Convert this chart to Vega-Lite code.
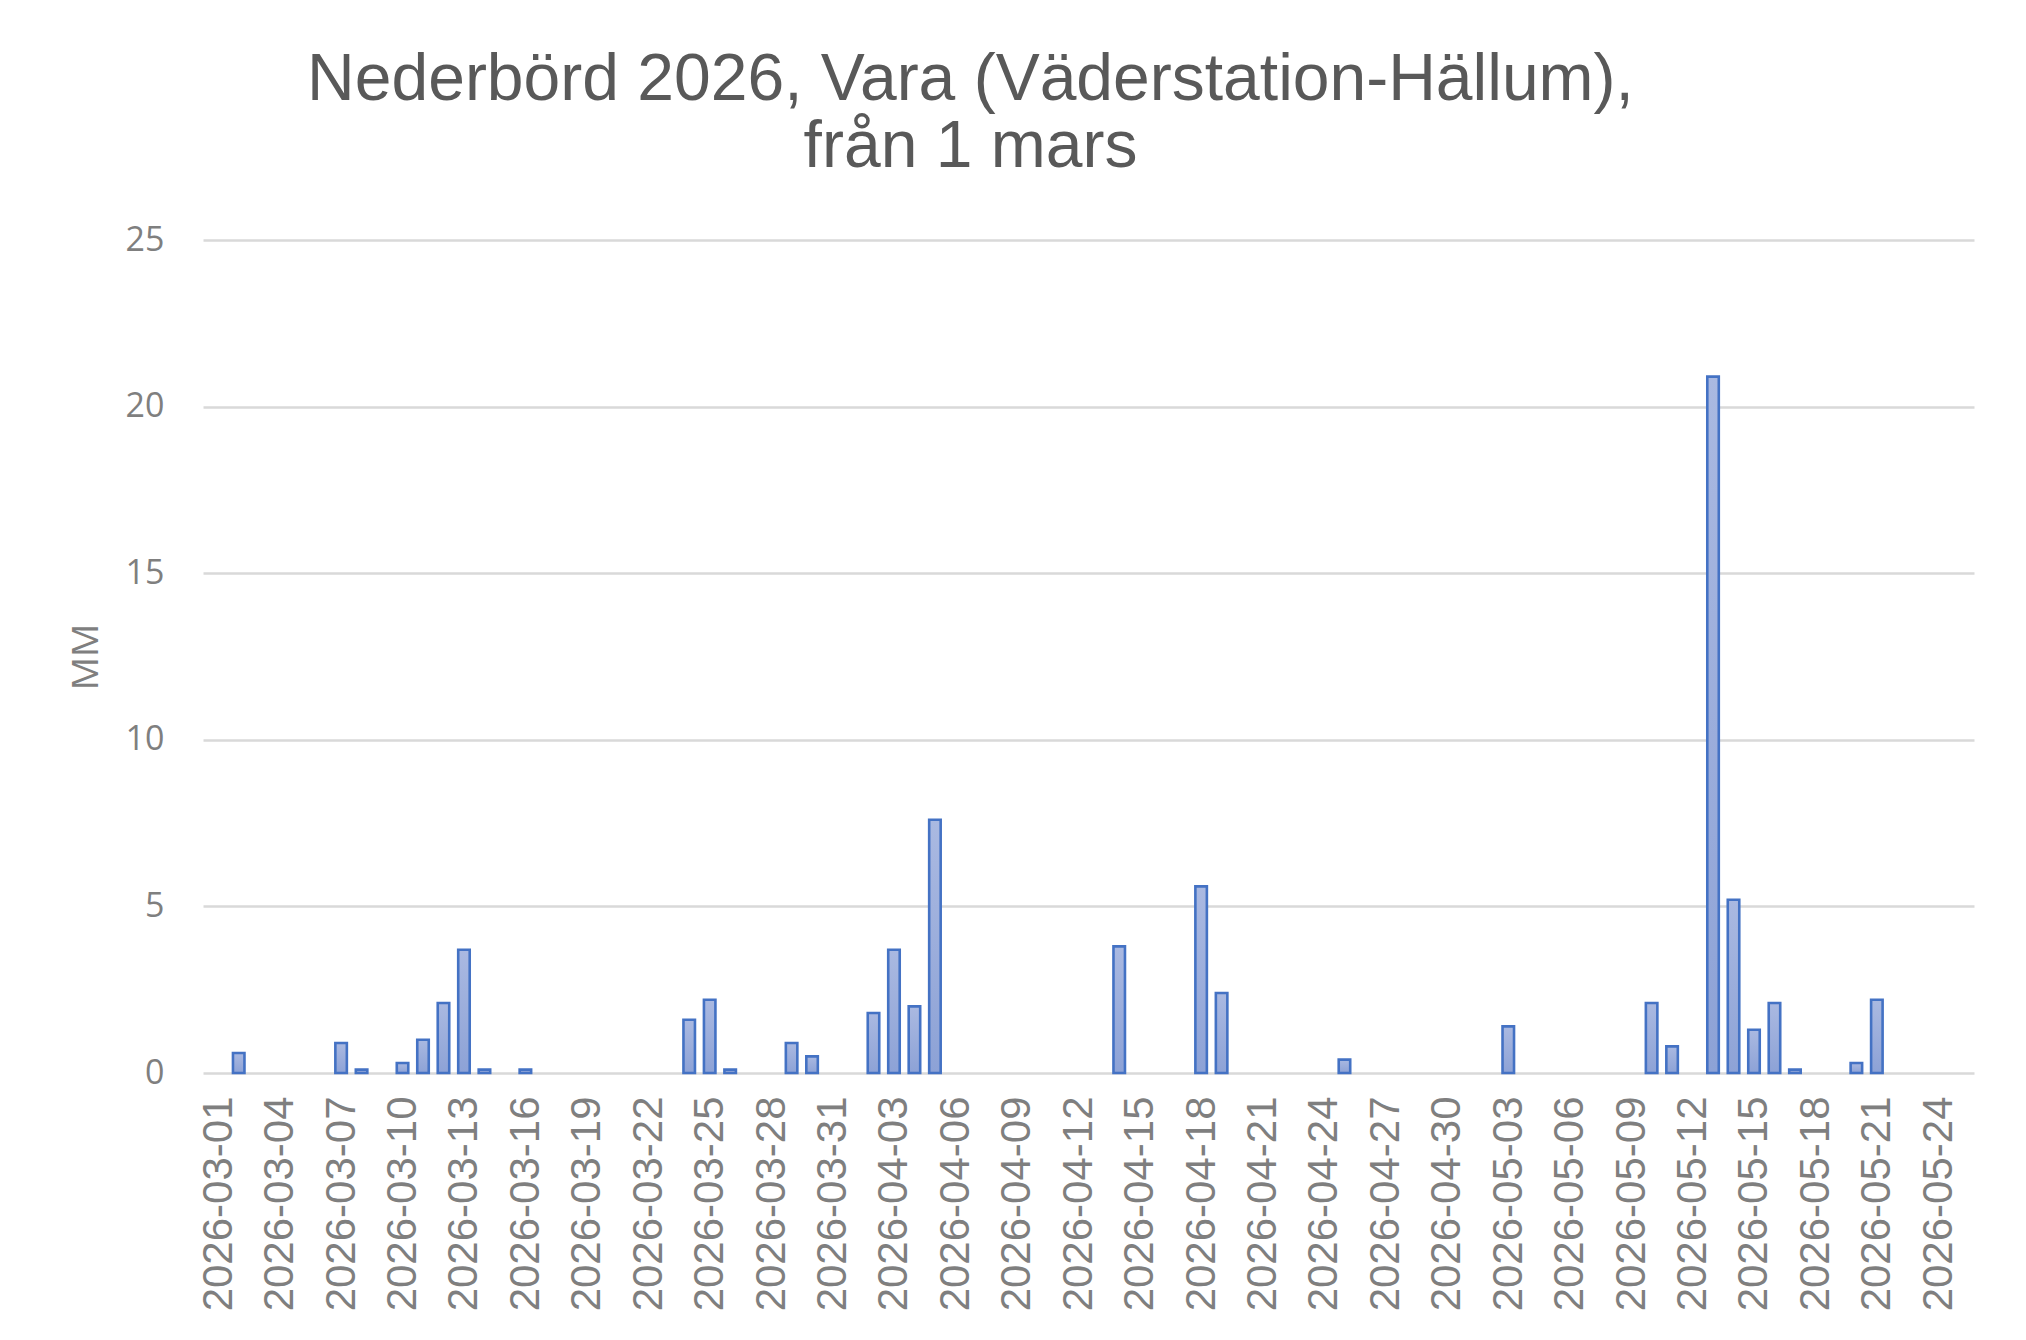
{
  "$schema": "https://vega.github.io/schema/vega-lite/v6.json",
  "description": "Nederbörd per dag, Vara (Väderstation-Hällum), mars-maj 2026",
  "width": 1771,
  "height": 833,
  "autosize": {"type": "none"},
  "padding": {"left": 203, "top": 240, "right": 52, "bottom": 267},
  "background": "white",
  "title": {
    "text": ["Nederbörd 2026, Vara (Väderstation-Hällum),", "från 1 mars"],
    "anchor": "middle",
    "frame": "group",
    "dx": -118,
    "offset": 42,
    "font": "Liberation Sans",
    "fontSize": 66,
    "fontWeight": "normal",
    "color": "#595959",
    "lineHeight": 67
  },
  "data": {
    "values": [
      {"datum": "2026-03-02", "mm": 0.6},
      {"datum": "2026-03-07", "mm": 0.9},
      {"datum": "2026-03-08", "mm": 0.1},
      {"datum": "2026-03-10", "mm": 0.3},
      {"datum": "2026-03-11", "mm": 1.0},
      {"datum": "2026-03-12", "mm": 2.1},
      {"datum": "2026-03-13", "mm": 3.7},
      {"datum": "2026-03-14", "mm": 0.1},
      {"datum": "2026-03-16", "mm": 0.1},
      {"datum": "2026-03-24", "mm": 1.6},
      {"datum": "2026-03-25", "mm": 2.2},
      {"datum": "2026-03-26", "mm": 0.1},
      {"datum": "2026-03-29", "mm": 0.9},
      {"datum": "2026-03-30", "mm": 0.5},
      {"datum": "2026-04-02", "mm": 1.8},
      {"datum": "2026-04-03", "mm": 3.7},
      {"datum": "2026-04-04", "mm": 2.0},
      {"datum": "2026-04-05", "mm": 7.6},
      {"datum": "2026-04-14", "mm": 3.8},
      {"datum": "2026-04-18", "mm": 5.6},
      {"datum": "2026-04-19", "mm": 2.4},
      {"datum": "2026-04-25", "mm": 0.4},
      {"datum": "2026-05-03", "mm": 1.4},
      {"datum": "2026-05-10", "mm": 2.1},
      {"datum": "2026-05-11", "mm": 0.8},
      {"datum": "2026-05-13", "mm": 20.9},
      {"datum": "2026-05-14", "mm": 5.2},
      {"datum": "2026-05-15", "mm": 1.3},
      {"datum": "2026-05-16", "mm": 2.1},
      {"datum": "2026-05-17", "mm": 0.1},
      {"datum": "2026-05-20", "mm": 0.3},
      {"datum": "2026-05-21", "mm": 2.2}
    ],
    "format": {"parse": {"datum": "utc:'%Y-%m-%d'"}}
  },
  "mark": {
    "type": "bar",
    "width": 11.5,
    "stroke": "#4472C4",
    "strokeWidth": 2.6,
    "fill": {
      "gradient": "linear",
      "x1": 0, "y1": 0, "x2": 0, "y2": 1,
      "stops": [
        {"offset": 0, "color": "#AAB9E1"},
        {"offset": 1, "color": "#8DA2D6"}
      ]
    }
  },
  "encoding": {
    "x": {
      "field": "datum",
      "type": "temporal",
      "scale": {
        "type": "utc",
        "domain": [
          {"year": 2026, "month": 2, "date": 28, "hours": 12, "utc": true},
          {"year": 2026, "month": 5, "date": 25, "hours": 12, "utc": true}
        ]
      },
      "axis": {
        "title": null,
        "labelExpr": "utcFormat(datum.value, '%Y-%m-%d')",
        "values": [
          {"year": 2026, "month": 3, "date": 1, "utc": true},
          {"year": 2026, "month": 3, "date": 4, "utc": true},
          {"year": 2026, "month": 3, "date": 7, "utc": true},
          {"year": 2026, "month": 3, "date": 10, "utc": true},
          {"year": 2026, "month": 3, "date": 13, "utc": true},
          {"year": 2026, "month": 3, "date": 16, "utc": true},
          {"year": 2026, "month": 3, "date": 19, "utc": true},
          {"year": 2026, "month": 3, "date": 22, "utc": true},
          {"year": 2026, "month": 3, "date": 25, "utc": true},
          {"year": 2026, "month": 3, "date": 28, "utc": true},
          {"year": 2026, "month": 3, "date": 31, "utc": true},
          {"year": 2026, "month": 4, "date": 3, "utc": true},
          {"year": 2026, "month": 4, "date": 6, "utc": true},
          {"year": 2026, "month": 4, "date": 9, "utc": true},
          {"year": 2026, "month": 4, "date": 12, "utc": true},
          {"year": 2026, "month": 4, "date": 15, "utc": true},
          {"year": 2026, "month": 4, "date": 18, "utc": true},
          {"year": 2026, "month": 4, "date": 21, "utc": true},
          {"year": 2026, "month": 4, "date": 24, "utc": true},
          {"year": 2026, "month": 4, "date": 27, "utc": true},
          {"year": 2026, "month": 4, "date": 30, "utc": true},
          {"year": 2026, "month": 5, "date": 3, "utc": true},
          {"year": 2026, "month": 5, "date": 6, "utc": true},
          {"year": 2026, "month": 5, "date": 9, "utc": true},
          {"year": 2026, "month": 5, "date": 12, "utc": true},
          {"year": 2026, "month": 5, "date": 15, "utc": true},
          {"year": 2026, "month": 5, "date": 18, "utc": true},
          {"year": 2026, "month": 5, "date": 21, "utc": true},
          {"year": 2026, "month": 5, "date": 24, "utc": true}
        ],
        "labelAngle": 270,
        "labelAlign": "right",
        "labelBaseline": "middle",
        "labelPadding": 23,
        "labelLimit": 0,
        "labelOverlap": false,
        "labelFlush": false,
        "labelBound": false,
        "labelFont": "Liberation Sans",
        "labelFontSize": 42,
        "labelColor": "#7F7F7F",
        "ticks": false,
        "domain": false,
        "grid": false
      }
    },
    "y": {
      "field": "mm",
      "type": "quantitative",
      "scale": {"domain": [0, 25], "nice": false},
      "axis": {
        "title": "MM",
        "values": [0, 5, 10, 15, 20, 25],
        "labelFont": "Open Sans",
        "labelFontSize": 34,
        "labelColor": "#7F7F7F",
        "labelPadding": 39,
        "titleFont": "Open Sans",
        "titleFontSize": 37,
        "titleFontWeight": "normal",
        "titleColor": "#7F7F7F",
        "titlePadding": 20,
        "ticks": false,
        "domain": false,
        "grid": true,
        "gridColor": "#D9D9D9",
        "gridWidth": 2.5
      }
    }
  },
  "config": {
    "view": {"stroke": null}
  }
}
